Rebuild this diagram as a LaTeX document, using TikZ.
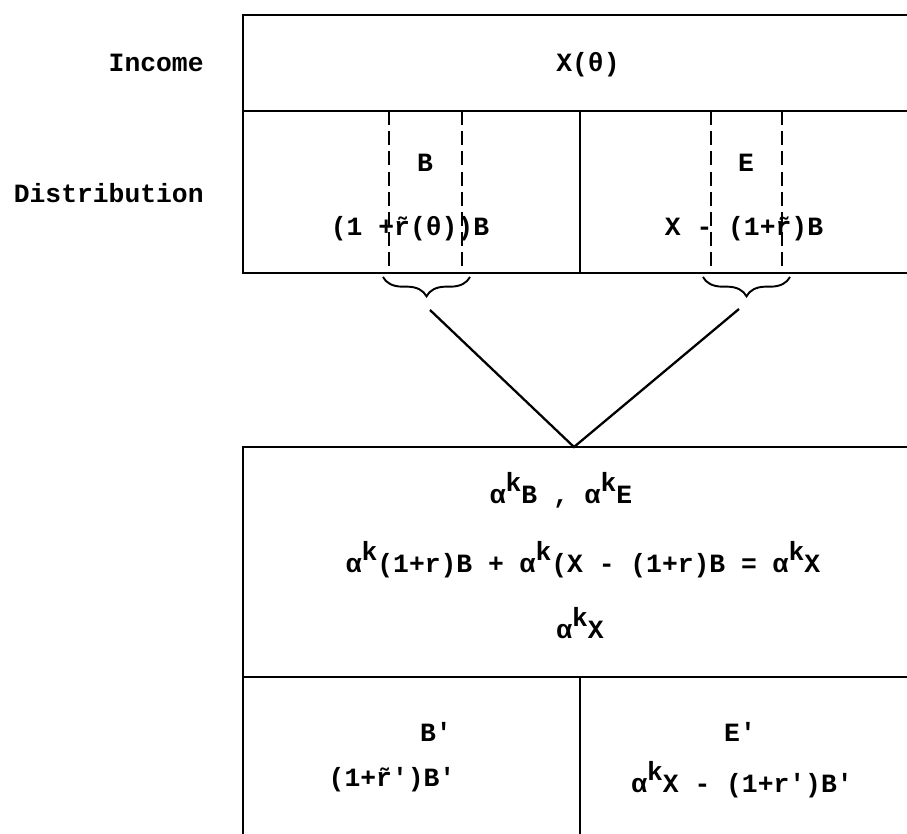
\documentclass[tikz,border=0pt]{standalone}
\usepackage{fontspec}
\newfontfamily\tw{Liberation Mono}
\usetikzlibrary{decorations.pathreplacing}
\newcommand\alk{α\raisebox{.45em}{k}}
\begin{document}
\begin{tikzpicture}[x=0.02cm,y=-0.02cm,line width=1.6pt,txt/.style={font=\tw\bfseries\fontsize{15}{18}\selectfont,inner sep=0},dsh/.style={line width=1.1pt,dash pattern=on 8pt off 3.5pt},brc/.style={line width=1.1pt,decorate,decoration={brace,mirror,amplitude=11pt}}]
\useasboundingbox(0,0)rectangle(907,834);
\draw(907,15)--(243,15)--(243,273)--(907,273);\draw(243,111)--(907,111);\draw(580,111)--(580,273);
\draw(907,447)--(243,447)--(243,834);\draw(243,677)--(907,677);\draw(580,677)--(580,834);
\foreach \x in {389,462,711,782}\draw[dsh](\x,111)--(\x,273);
\draw[brc](383,277)--(470,277);\draw[brc](703,277)--(790,277);
\coordinate(lb)at(430,310);\coordinate(rb)at(739,309);\coordinate(ap)at(574,447);
\draw[line width=1.3pt](lb)--(ap)--(rb);
\node[txt,anchor=east](inc)at(205,63){Income};\node[txt,anchor=east](dis)at(205,193){Distribution};
\node[txt](x)at(588,65){X(θ)};
\node[txt](b)at(425,163){B};\node[txt](e)at(746,163){E};
\node[txt](bf)at(410,229){(1 +\~r(θ))B};\node[txt](ef)at(744,229){X - (1+\~r)B};
\node[txt](al)at(561,490){\alk B , \alk E};
\node[txt](eq)at(583,560){\alk(1+r)B + \alk(X - (1+r)B = \alk X};
\node[txt](ax)at(580,623){\alk X};
\node[txt](b2)at(436,732){B'};\node[txt](bf2)at(392,780){(1+\~r')B'};
\node[txt](e2)at(740,732){E'};\node[txt](ef2)at(742,780){\alk X - (1+r')B'};
\end{tikzpicture}
\end{document}
